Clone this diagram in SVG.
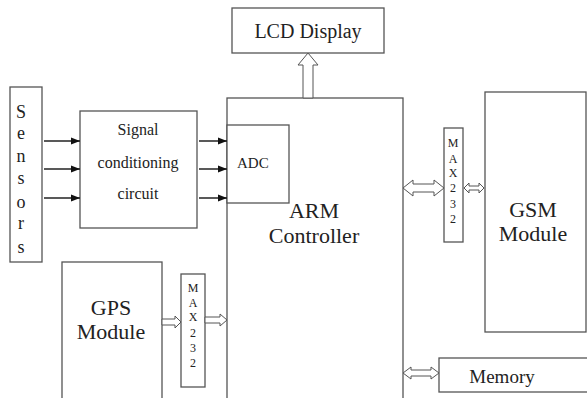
<svg xmlns="http://www.w3.org/2000/svg" width="587" height="398" viewBox="0 0 587 398" font-family="'Liberation Serif','Times New Roman',serif">
<defs>
<style>
.box{fill:#fff;stroke:#555;stroke-width:1.3}
.t{font-family:"Liberation Serif","Times New Roman",serif;fill:#222}
.hol{fill:#fff;stroke:#555;stroke-width:1}
.ln{stroke:#222;stroke-width:1.5;fill:none}
</style>
<marker id="ah2" viewBox="0 0 10 10" refX="10" refY="5" markerWidth="9" markerHeight="9" orient="auto" markerUnits="userSpaceOnUse">
<path d="M0,1 L10,5 L0,9 z" fill="#111"/>
</marker>
</defs>
<rect width="587" height="398" fill="#fff"/>

<g id="lcd">
<rect class="box" x="232" y="8" width="152" height="45"/>
<text class="t" x="308" y="38" font-size="20" text-anchor="middle">LCD Display</text>
</g>

<g id="arm">
<rect class="box" x="227" y="98" width="176" height="302"/>
<text class="t" x="314" y="218" font-size="22" text-anchor="middle">ARM</text>
<text class="t" x="314" y="243" font-size="22" text-anchor="middle">Controller</text>
</g>

<g id="adc">
<rect class="box" x="227" y="125" width="62" height="78"/>
<text class="t" x="237" y="168" font-size="15">ADC</text>
</g>

<g id="sensors">
<clipPath id="sc"><rect x="10" y="87" width="32" height="175"/></clipPath>
<rect class="box" x="10" y="87" width="32" height="175"/>
<g clip-path="url(#sc)" class="t" font-size="18" text-anchor="middle">
<text x="21" y="118">S</text>
<text x="21" y="139">e</text>
<text x="21" y="162">n</text>
<text x="21" y="184">s</text>
<text x="21" y="208">o</text>
<text x="21" y="229">r</text>
<text x="21" y="253">s</text>
</g>
</g>

<g id="signal">
<rect class="box" x="80" y="111" width="117" height="117"/>
<text class="t" x="138" y="135" font-size="16" text-anchor="middle">Signal</text>
<text class="t" x="138" y="168" font-size="16" text-anchor="middle">conditioning</text>
<text class="t" x="138" y="199" font-size="16" text-anchor="middle">circuit</text>
</g>

<g id="gps">
<rect class="box" x="62" y="262" width="100" height="140"/>
<text class="t" x="111" y="315" font-size="22" text-anchor="middle">GPS</text>
<text class="t" x="111" y="339" font-size="22" text-anchor="middle">Module</text>
</g>

<g id="max232-left">
<rect class="box" x="181" y="274" width="24" height="113"/>
<g class="t" font-size="12" text-anchor="middle">
<text x="193" y="292">M</text>
<text x="193" y="307">A</text>
<text x="193" y="321">X</text>
<text x="193" y="337">2</text>
<text x="193" y="352">3</text>
<text x="193" y="367">2</text>
</g>
</g>

<g id="max232-right">
<rect class="box" x="444" y="128" width="19" height="114"/>
<g class="t" font-size="12" text-anchor="middle">
<text x="453" y="147">M</text>
<text x="453" y="163">A</text>
<text x="453" y="177">X</text>
<text x="453" y="192">2</text>
<text x="453" y="208">3</text>
<text x="453" y="223">2</text>
</g>
</g>

<g id="gsm">
<rect class="box" x="485" y="92" width="101" height="240"/>
<text class="t" x="533" y="217" font-size="22" text-anchor="middle">GSM</text>
<text class="t" x="533" y="241" font-size="22" text-anchor="middle">Module</text>
</g>

<g id="memory">
<rect class="box" x="439" y="358" width="150" height="34"/>
<text class="t" x="502" y="383" font-size="19" text-anchor="middle">Memory</text>
</g>

<g id="connectors">
<line class="ln" x1="44" y1="141" x2="80" y2="141" marker-end="url(#ah2)"/>
<line class="ln" x1="44" y1="169" x2="80" y2="169" marker-end="url(#ah2)"/>
<line class="ln" x1="44" y1="198" x2="80" y2="198" marker-end="url(#ah2)"/>
<line class="ln" x1="199" y1="141" x2="227" y2="141" marker-end="url(#ah2)"/>
<line class="ln" x1="199" y1="169" x2="227" y2="169" marker-end="url(#ah2)"/>
<line class="ln" x1="199" y1="198" x2="227" y2="198" marker-end="url(#ah2)"/>
<polygon class="hol" points="303,98 303,65 298,65 308,53 318,65 313,65 313,98"/>
<polygon class="hol" points="162,319 175,319 175,316 181,322 175,328 175,325 162,325"/>
<polygon class="hol" points="205,317 220,317 220,314 227,320 220,326 220,323 205,323"/>
<polygon class="hol" points="403,188 413,180 413,184 434,184 434,180 444,188 434,196 434,192 413,192 413,196"/>
<polygon class="hol" points="464,188 469,183 469,186 479,186 479,183 484,188 479,193 479,190 469,190 469,193"/>
<polygon class="hol" points="403,373 411,367 411,370 431,370 431,367 439,373 431,379 431,376 411,376 411,379"/>
</g>
</svg>
